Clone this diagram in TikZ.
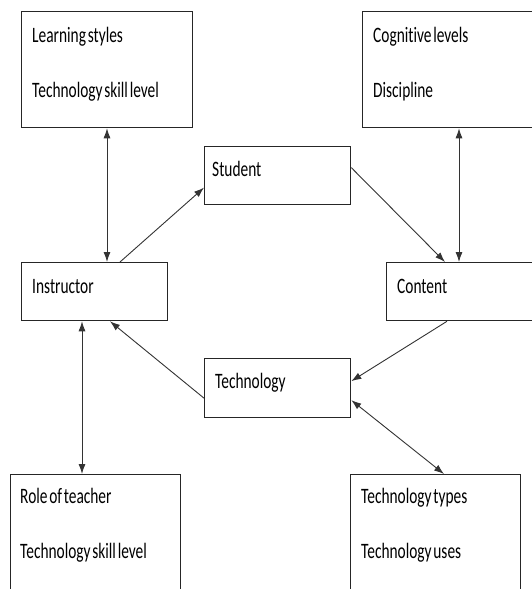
\documentclass[tikz,border=0pt]{standalone}
\usepackage{fontspec}
\setmainfont{Carlito}[FakeStretch=0.70,WordSpace=0.5,Ligatures={NoCommon}]
\usetikzlibrary{arrows.meta}
\begin{document}
\begin{tikzpicture}[x=1pt,y=-1pt,
  box/.style={draw=black!85, line width=1.3pt, rectangle, inner sep=0pt, anchor=north west},
  lbl/.style={anchor=base west, inner sep=0pt, font=\fontsize{22}{26}\selectfont, text=black},
  conn/.style={draw=black!80, line width=0.9pt, -{Latex[length=10pt,width=7pt]}},
  dconn/.style={draw=black!80, line width=0.9pt, {Latex[length=10pt,width=7pt]}-{Latex[length=10pt,width=7pt]}}]
\useasboundingbox (0,0) rectangle (531,589);
% boxes
\node[box, minimum width=171pt, minimum height=116pt] (ls) at (21,11) {};
\node[box, minimum width=178pt, minimum height=116pt] (cl) at (362,11) {};
\node[box, minimum width=146pt, minimum height=58pt] (stu) at (204,146) {};
\node[box, minimum width=146pt, minimum height=58pt] (ins) at (21,262) {};
\node[box, minimum width=154pt, minimum height=58pt] (con) at (386,262) {};
\node[box, minimum width=146pt, minimum height=59pt] (tec) at (204,358) {};
\node[box, minimum width=170pt, minimum height=126pt] (rt) at (10,474) {};
\node[box, minimum width=170pt, minimum height=126pt] (tt) at (350,474) {};
% texts
\node[lbl] (t1) at (32,42) {Learning styles};
\node[lbl] (t2) at (32,97) {Technology skill level};
\node[lbl] (t3) at (373,42) {Cognitive levels};
\node[lbl] (t4) at (373,97) {Discipline};
\node[lbl] (t5) at (212,176) {Student};
\node[lbl] (t6) at (32,293) {Instructor};
\node[lbl] (t7) at (397,293) {Content};
\node[lbl] (t8) at (215,388) {Technology};
\node[lbl] (t9) at (20,503) {Role of teacher};
\node[lbl] (t10) at (20,558) {Technology skill level};
\node[lbl] (t11) at (361,503) {Technology types};
\node[lbl] (t12) at (361,558) {Technology uses};
% connectors
\draw[dconn] ([xshift=86pt]ls.south west) -- ([xshift=86pt]ins.north west);
\draw[conn] ([xshift=99pt]ins.north west) -- ([yshift=-12pt]stu.west);
\draw[conn] ([yshift=8pt]stu.east) -- ([xshift=59pt]con.north west);
\draw[dconn] ([xshift=97pt]cl.south west) -- ([xshift=73pt]con.north west);
\draw[conn] ([xshift=61pt]con.south west) -- ([yshift=7pt]tec.east);
\draw[conn] ([yshift=-10pt]tec.west) -- ([xshift=89pt]ins.south west);
\draw[dconn] ([xshift=61pt]ins.south west) -- ([xshift=72pt]rt.north west);
\draw[dconn] ([yshift=-12pt]tec.east) -- ([xshift=94pt]tt.north west);
\end{tikzpicture}
\end{document}
